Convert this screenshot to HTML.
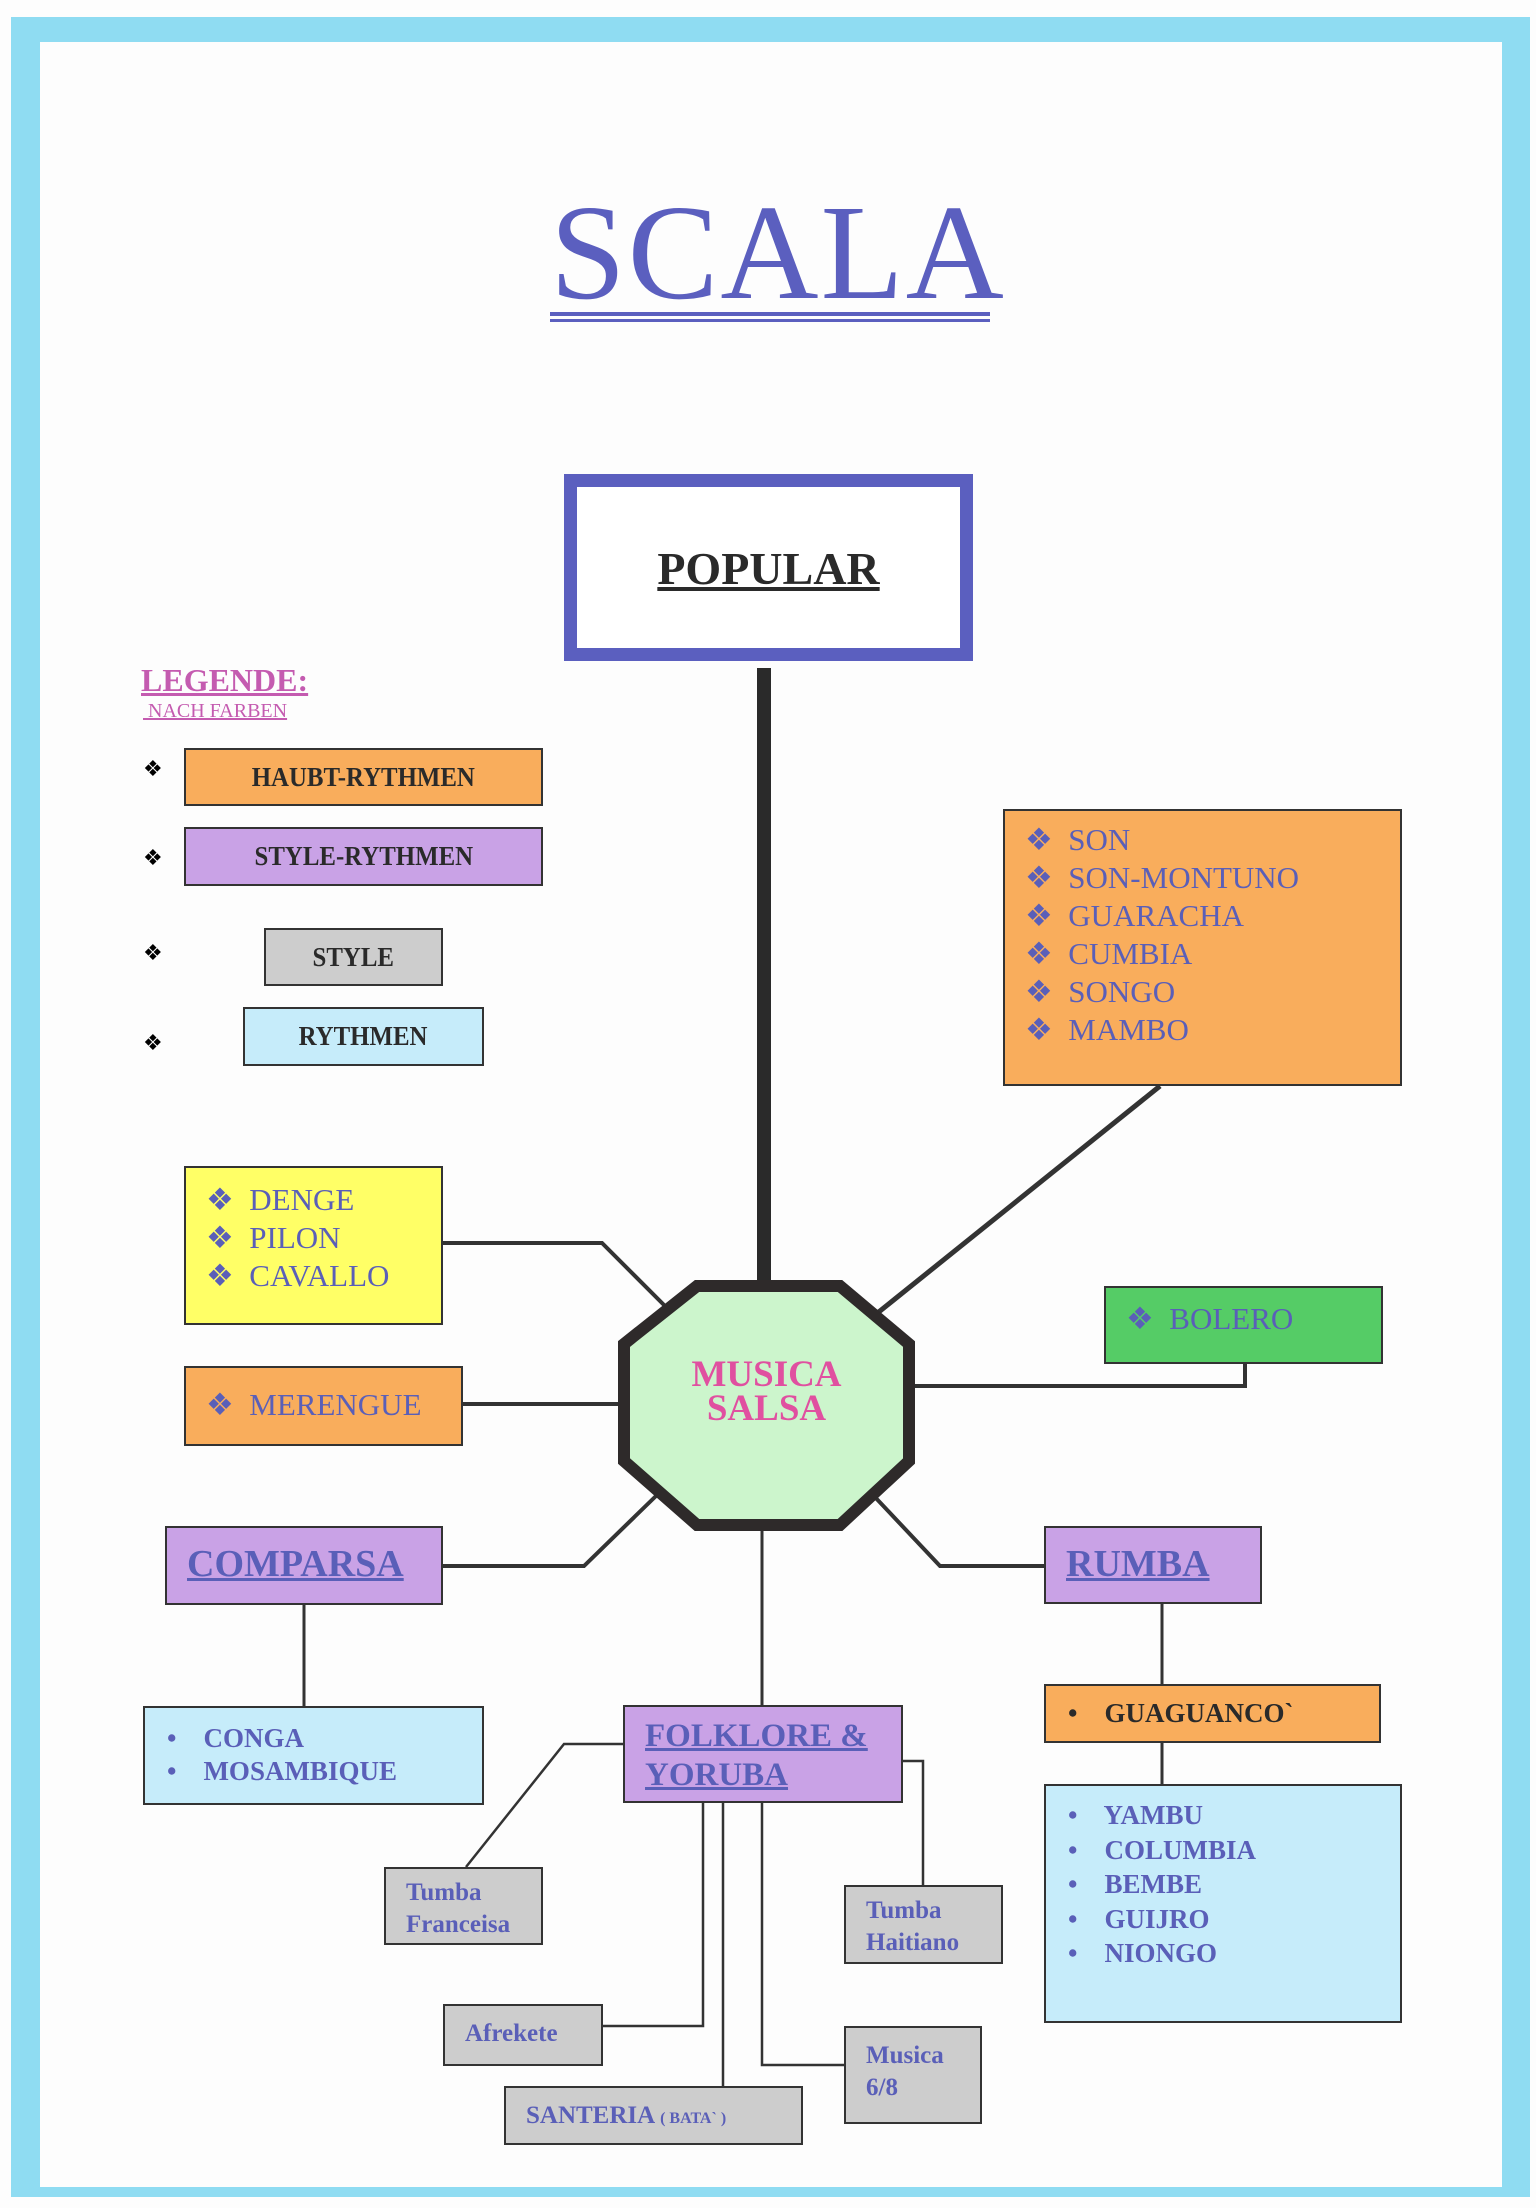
<!DOCTYPE html>
<html><head><meta charset="utf-8"><style>
body{margin:0;width:1536px;height:2208px;position:relative;background:#fdfdfd;overflow:hidden;font-family:"Liberation Serif",serif}
.b{position:absolute;box-sizing:border-box;border:2px solid #333}
.t{position:absolute;white-space:nowrap}
.blue{color:#5a5fb8}
.or{background:#f9ad5c}.pu{background:#c9a2e6}.gr{background:#cdcdcd}.lb{background:#c6ecfa}
.lg{font-weight:bold;font-size:27px;color:#2a2a2a;display:flex;align-items:center;justify-content:center}
.lg span{display:inline-block;transform:scaleX(.92)}
.it{font-size:31px;line-height:38px}
.gb{font-weight:bold;font-size:25px;color:#5a5fb8;line-height:32px;padding:8px 0 0 20px}
</style></head><body>
<!-- border -->
<div style="position:absolute;left:11px;top:17px;width:1519px;height:25px;background:#8fdcf2"></div>
<div style="position:absolute;left:11px;top:17px;width:29px;height:2180px;background:#8fdcf2"></div>
<div style="position:absolute;left:1502px;top:17px;width:28px;height:2180px;background:#8fdcf2"></div>
<div style="position:absolute;left:11px;top:2187px;width:1519px;height:10px;background:#8fdcf2"></div>

<!-- title -->
<div class="t" style="left:550px;width:440px;text-align:center;top:185px;font-family:'Liberation Serif',serif;font-size:136px;color:#5b5fbf;line-height:136px;letter-spacing:2px">SCALA</div>
<div style="position:absolute;left:550px;top:312px;width:440px;height:4px;background:#5b5fbf"></div>
<div style="position:absolute;left:550px;top:319px;width:440px;height:3px;background:#5b5fbf"></div>

<svg style="position:absolute;left:0;top:0" width="1536" height="2208">
<g fill="none" stroke="#333" stroke-width="4">
<line x1="1160" y1="1086" x2="875" y2="1315" stroke-width="5"/>
<polyline points="443,1243 602,1243 664,1305"/>
<line x1="463" y1="1404" x2="622" y2="1404"/>
<polyline points="909,1386 1245,1386 1245,1364"/>
<polyline points="443,1566 584,1566 657,1495"/>
<polyline points="873,1495 940,1566 1044,1566"/>
<line x1="762" y1="1528" x2="762" y2="1705" stroke-width="3"/>
<line x1="304" y1="1605" x2="304" y2="1706" stroke-width="3"/>
<line x1="1162" y1="1604" x2="1162" y2="1684" stroke-width="3"/>
<line x1="1162" y1="1743" x2="1162" y2="1784" stroke-width="3"/>
<polyline points="623,1744 564,1744 466,1867" stroke-width="2.5"/>
<polyline points="903,1761 923,1761 923,1885" stroke-width="2.5"/>
<polyline points="703,1803 703,2026 603,2026" stroke-width="2.5"/>
<line x1="723" y1="1803" x2="723" y2="2086" stroke-width="2.5"/>
<polyline points="762,1803 762,2065 844,2065" stroke-width="2.5"/>
</g>
<rect x="757" y="668" width="14" height="620" fill="#2a2a2a"/>
<polygon points="697,1286 840,1286 909,1344 909,1461 840,1525 697,1525 624,1461 624,1344" fill="#ccf5cc" stroke="#2e2a2a" stroke-width="12"/>
</svg>

<!-- popular -->
<div class="b" style="left:564px;top:474px;width:409px;height:187px;border:13px solid #5b5fbf;background:#fff"></div>
<div class="t" style="left:564px;width:409px;text-align:center;top:542px;font-weight:bold;font-size:46px;color:#2a2a2a;text-decoration:underline">POPULAR</div>

<!-- legend -->
<div class="t" style="left:141px;top:662px;font-size:32px;font-weight:bold;color:#c45bb0;text-decoration:underline">LEGENDE:</div>
<div class="t" style="left:143px;top:700px;font-size:20px;color:#c45bb0;text-decoration:underline">&nbsp;NACH FARBEN</div>
<div class="t" style="left:143px;top:756px;font-size:22px">❖</div>
<div class="t" style="left:143px;top:845px;font-size:22px">❖</div>
<div class="t" style="left:143px;top:940px;font-size:22px">❖</div>
<div class="t" style="left:143px;top:1030px;font-size:22px">❖</div>
<div class="b or lg" style="left:184px;top:748px;width:359px;height:58px"><span>HAUBT-RYTHMEN</span></div>
<div class="b pu lg" style="left:184px;top:827px;width:359px;height:59px"><span>STYLE-RYTHMEN</span></div>
<div class="b gr lg" style="left:264px;top:928px;width:179px;height:58px"><span>STYLE</span></div>
<div class="b lb lg" style="left:243px;top:1007px;width:241px;height:59px"><span>RYTHMEN</span></div>

<!-- son -->
<div class="b or blue it" style="left:1003px;top:809px;width:399px;height:277px;padding:10px 0 0 20px">
❖&nbsp; SON<br>❖&nbsp; SON-MONTUNO<br>❖&nbsp; GUARACHA<br>❖&nbsp; CUMBIA<br>❖&nbsp; SONGO<br>❖&nbsp; MAMBO</div>

<div class="b blue it" style="left:184px;top:1166px;width:259px;height:159px;background:#ffff66;padding:13px 0 0 20px">❖&nbsp; DENGE<br>❖&nbsp; PILON<br>❖&nbsp; CAVALLO</div>
<div class="b or blue it" style="left:184px;top:1366px;width:279px;height:80px;padding:18px 0 0 20px">❖&nbsp; MERENGUE</div>
<div class="b blue it" style="left:1104px;top:1286px;width:279px;height:78px;background:#55cc66;padding:12px 0 0 20px">❖&nbsp; BOLERO</div>

<div class="t" style="left:624px;width:285px;text-align:center;top:1358px;font-weight:bold;font-size:37px;line-height:34px;color:#e050a0">MUSICA<br>SALSA</div>

<div class="b pu blue" style="left:165px;top:1526px;width:278px;height:79px;font-weight:bold;font-size:38px;padding:14px 0 0 20px;text-decoration:underline">COMPARSA</div>
<div class="b pu blue" style="left:1044px;top:1526px;width:218px;height:78px;font-weight:bold;font-size:38px;padding:14px 0 0 20px;text-decoration:underline">RUMBA</div>
<div class="b pu blue" style="left:623px;top:1705px;width:280px;height:98px;font-weight:bold;font-size:33px;line-height:39px;padding:10px 0 0 20px;text-decoration:underline">FOLKLORE &amp;<br>YORUBA</div>

<div class="b lb blue" style="left:143px;top:1706px;width:341px;height:99px;font-weight:bold;font-size:27px;line-height:33px;padding:14px 0 0 22px">•&nbsp;&nbsp;&nbsp; CONGA<br>•&nbsp;&nbsp;&nbsp; MOSAMBIQUE</div>
<div class="b or" style="left:1044px;top:1684px;width:337px;height:59px;font-weight:bold;font-size:27px;color:#2a2a2a;padding:12px 0 0 22px">•&nbsp;&nbsp;&nbsp; GUAGUANCO`</div>
<div class="b lb blue" style="left:1044px;top:1784px;width:358px;height:239px;font-weight:bold;font-size:27px;line-height:34.5px;padding:12px 0 0 22px">•&nbsp;&nbsp;&nbsp; YAMBU<br>•&nbsp;&nbsp;&nbsp; COLUMBIA<br>•&nbsp;&nbsp;&nbsp; BEMBE<br>•&nbsp;&nbsp;&nbsp; GUIJRO<br>•&nbsp;&nbsp;&nbsp; NIONGO</div>

<div class="b gr gb" style="left:384px;top:1867px;width:159px;height:78px">Tumba<br>Franceisa</div>
<div class="b gr gb" style="left:844px;top:1885px;width:159px;height:79px">Tumba<br>Haitiano</div>
<div class="b gr gb" style="left:443px;top:2004px;width:160px;height:62px;padding-top:12px">Afrekete</div>
<div class="b gr gb" style="left:504px;top:2086px;width:299px;height:59px;padding-top:12px">SANTERIA <span style="font-size:16px">( BATA` )</span></div>
<div class="b gr gb" style="left:844px;top:2026px;width:138px;height:98px;padding-top:12px">Musica<br>6/8</div>
</body></html>
